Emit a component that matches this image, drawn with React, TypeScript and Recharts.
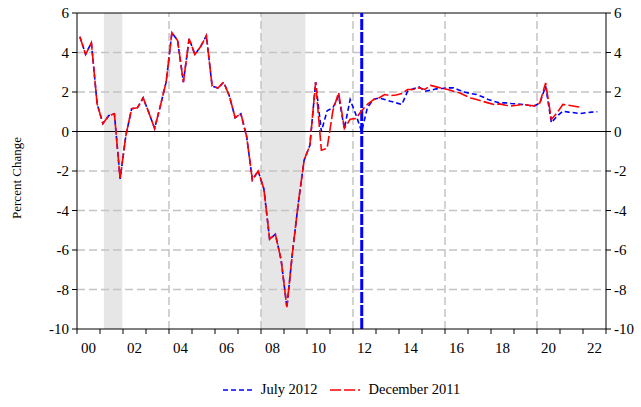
import React from 'react';
import { LineChart, Line, XAxis, YAxis, ReferenceLine, ReferenceArea, Legend } from 'recharts';

const W = 641;
const H = 407;
const FONT = 'Liberation Serif, Times New Roman, serif';

// axis setup
const yearTicks = [
  2000, 2001, 2002, 2003, 2004, 2005, 2006, 2007, 2008, 2009, 2010, 2011,
  2012, 2013, 2014, 2015, 2016, 2017, 2018, 2019, 2020, 2021, 2022, 2023,
];
const labelYears = [2000, 2002, 2004, 2006, 2008, 2010, 2012, 2014, 2016, 2018, 2020, 2022];
const yTicks = [-10, -8, -6, -4, -2, 0, 2, 4, 6];
const gridValues = [-8, -6, -4, -2, 2, 4];
const gridYears = [2004, 2008, 2012, 2016, 2020];
const recessions = [
  [2001.17, 2001.97],
  [2008.0, 2009.93],
];
const forecastMark = 2012.38;

// quarterly, from 2000Q1 — both vintages agree through 2010Q2
const history = [
  4.8, 3.9, 4.5, 1.4, 0.4, 0.8, 0.9, -2.4, -0.2, 1.15,
  1.2, 1.7, 0.95, 0.15, 1.3, 2.5, 5.0, 4.6, 2.5, 4.7,
  3.9, 4.3, 4.85, 2.3, 2.2, 2.5, 1.8, 0.7, 0.9, -0.25,
  -2.45, -2.0, -2.9, -5.45, -5.2, -6.5, -8.9, -6.05, -3.6, -1.45,
  -0.7, 2.5,
];
// 2010Q3 onward
const july2012Tail = [
  0.0, 1.05, 1.2, 1.8, 0.15, 1.62, 0.86, 0.0, 1.2, 1.62,
  1.7, 1.62, 1.53, 1.45, 1.37, 2.04, 2.16, 2.26, 2.04, 2.09,
  2.16, 2.18, 2.21, 2.21, 2.09, 1.99, 1.92, 1.87, 1.76, 1.62,
  1.53, 1.45, 1.45, 1.42, 1.4, 1.37, 1.33, 1.28, 1.45, 2.3,
  0.44, 0.78, 1.03, 0.98, 0.95, 0.91, 0.95, 0.98, 1.0,
];
const dec2011Tail = [
  -0.95, -0.85, 1.05, 1.98, 0.15, 0.62, 0.66, 1.05, 1.37, 1.6,
  1.7, 1.87, 1.82, 1.85, 1.92, 2.13, 2.13, 2.21, 2.13, 2.33,
  2.26, 2.18, 2.13, 2.04, 1.96, 1.82, 1.7, 1.62, 1.53, 1.45,
  1.37, 1.4, 1.33, 1.3, 1.33, 1.37, 1.33, 1.3, 1.45, 2.46,
  0.61, 0.95, 1.37, 1.33, 1.28, 1.23,
];

const july = [...history, ...july2012Tail];
const dec = [...history, ...dec2011Tail];

const data = july.map((v, i) => ({
  t: 2000 + i / 4 + 0.125,
  july: v,
  dec: i < dec.length ? dec[i] : null,
}));

const PLOT_LEFT = 77;
const PLOT_RIGHT = 606;
const HALF_YEAR = (PLOT_RIGHT - PLOT_LEFT) / 23 / 2;

const YearTick = (props: any) => {
  const { x, y, payload } = props;
  if (!labelYears.includes(payload.value)) return <g />;
  return (
    <text x={x + HALF_YEAR} y={y} dy={17} textAnchor="middle" fill="#000" fontSize={15} fontFamily={FONT}>
      {String(payload.value).slice(2)}
    </text>
  );
};

const YLabel = () => (
  <text
    x={21}
    y={178}
    transform="rotate(-90 21 178)"
    textAnchor="middle"
    fill="#000"
    fontSize={13}
    fontFamily={FONT}
  >
    Percent Change
  </text>
);

const LegendBox = () => (
  <div style={{ display: 'flex', justifyContent: 'center', alignItems: 'center', fontFamily: FONT, fontSize: 14.5, color: '#000', paddingTop: 22, paddingLeft: 42 }}>
    <svg width={30} height={6} style={{ marginRight: 8 }}>
      <line x1={0} y1={3} x2={30} y2={3} stroke="#0000ff" strokeWidth={1.6} strokeDasharray="5 3" />
    </svg>
    <span style={{ marginRight: 12 }}>July 2012</span>
    <svg width={30} height={6} style={{ marginRight: 9 }}>
      <line x1={0} y1={3} x2={30} y2={3} stroke="#ff0000" strokeWidth={1.6} strokeDasharray="11 3" />
    </svg>
    <span>December 2011</span>
  </div>
);

export default function App() {
  return (
    <div style={{ position: 'absolute', left: 0, top: 0, width: W, height: H, background: '#fff' }}>
      <LineChart width={W} height={H} data={data} margin={{ top: 13, right: 0, left: 0, bottom: 0 }}>
        <XAxis
          dataKey="t"
          type="number"
          domain={[2000, 2023]}
          ticks={yearTicks}
          allowDataOverflow
          interval={0}
          height={30}
          tickSize={5}
          tickMargin={2}
          stroke="#000"
          tick={<YearTick />}
        />
        <YAxis
          yAxisId="left"
          domain={[-10, 6]}
          ticks={yTicks}
          interval={0}
          width={77}
          tickSize={5}
          tickMargin={3}
          stroke="#000"
          tick={{ fill: '#000', fontSize: 15, fontFamily: FONT }}
          label={<YLabel />}
        />
        <YAxis
          yAxisId="right"
          orientation="right"
          domain={[-10, 6]}
          ticks={yTicks}
          interval={0}
          width={W - PLOT_RIGHT}
          tickSize={5}
          tickMargin={3}
          stroke="#000"
          tick={{ fill: '#000', fontSize: 15, fontFamily: FONT }}
        />
        {recessions.map(([a, b], i) => (
          <ReferenceArea key={'r' + i} yAxisId="left" x1={a} x2={b} y1={-10} y2={6} fill="#e6e6e6" fillOpacity={1} stroke="none" />
        ))}
        {gridValues.map((v) => (
          <ReferenceLine key={'h' + v} yAxisId="left" y={v} stroke="#c4c4c4" strokeWidth={1.5} strokeDasharray="8 4" />
        ))}
        {gridYears.map((v) => (
          <ReferenceLine key={'v' + v} yAxisId="left" x={v} stroke="#c4c4c4" strokeWidth={1.5} strokeDasharray="8 4" />
        ))}
        <ReferenceLine yAxisId="left" y={0} stroke="#000" strokeWidth={1} />
        <ReferenceLine yAxisId="left" y={6} stroke="#000" strokeWidth={1} />
        <ReferenceLine yAxisId="left" x={forecastMark} stroke="#0000ff" strokeWidth={3} strokeDasharray="11 2" />
        <Line
          yAxisId="right"
          dataKey="july"
          stroke="none"
          dot={false}
          legendType="none"
          isAnimationActive={false}
        />
        <Line
          yAxisId="left"
          dataKey="july"
          name="July 2012"
          stroke="#0000ff"
          strokeWidth={1.6}
          strokeDasharray="5 3"
          dot={false}
          isAnimationActive={false}
        />
        <Line
          yAxisId="left"
          dataKey="dec"
          name="December 2011"
          stroke="#ff0000"
          strokeWidth={1.6}
          strokeDasharray="11 3"
          dot={false}
          connectNulls={false}
          isAnimationActive={false}
        />
        <Legend verticalAlign="bottom" height={48} content={<LegendBox />} />
      </LineChart>
    </div>
  );
}
